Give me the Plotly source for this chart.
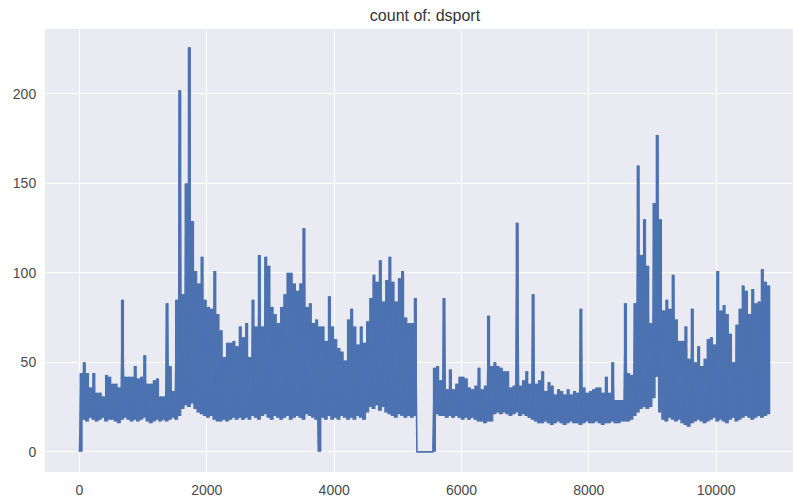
import numpy as np
import plotly.graph_objects as go

# Count of dsport per record index, summarised in 50-record bins:
# each bin contributes its lowest and highest count.
BIN = 50

bin_low = [
    0,
    18, 17, 19, 18, 17, 18, 19, 17, 18, 18, 17, 16, 18, 19, 18, 17, 18, 17, 18, 19,
    17, 16, 17, 18, 17, 18, 17, 18, 19, 18, 20,
    24, 26, 25, 27, 24, 22, 21, 20,
    19, 20, 18, 17, 17, 18, 17, 18, 19, 18, 19, 18,
    19, 18, 20, 19, 18, 20, 21, 19, 18, 20, 19, 18, 19, 20, 18, 19, 20, 19, 18, 21,
    20, 19, 18,
    0,
    19, 18, 20, 18, 19, 18, 20, 19, 18, 19, 18, 20, 19, 18,
    22, 25, 24, 26, 23, 25, 22, 21,
    20, 19, 21, 20, 19, 20, 19, 20,
    0, 0, 0, 0, 0, 0,
    21, 20, 20, 19, 20, 19, 20, 19, 18, 19, 18, 19, 18,
    17, 17, 16, 17, 17,
    21, 22, 21, 22, 21, 20, 21, 22,
    20, 21, 20, 19, 18,
    17, 16, 16, 17, 16, 15, 16, 17, 16, 15, 16, 17, 16, 16, 15, 16, 17, 16, 16, 17,
    16, 15, 16, 16, 17, 16, 16, 17, 17,
    17, 18, 20,
    22, 24, 25, 24, 25,
    30, 42, 22,
    18, 17, 19, 18, 17, 18, 16, 15, 14, 16, 17, 18, 17, 16, 17, 18, 19, 17, 18, 17,
    16, 18, 19, 17, 18, 19, 20, 19, 18, 19, 20, 19, 20, 21,
]

bin_high = [
    44, 50, 44, 36, 44, 33, 33, 31, 43, 42, 38, 38, 36, 85, 42, 42, 42, 48, 41, 42,
    54, 38, 38, 40, 41, 31, 31, 83, 48, 34, 85, 202,
    88, 150, 226, 129, 101, 94, 109, 85, 81, 80, 101, 77, 68, 53, 61, 61, 62, 59,
    70, 64,
    72, 53, 85, 70, 110, 70, 109, 104, 81, 77, 72, 81, 88, 100, 100, 94, 90, 94,
    125, 81, 83, 72, 74, 70, 70, 62, 87, 70, 63, 58, 56, 51, 74, 80, 70, 60, 70, 61,
    73, 86, 99, 95, 107, 84, 96, 109, 95, 84, 97, 101, 75, 72, 72, 86,
    0, 0, 0, 0, 0, 47,
    48, 40, 86, 35, 46, 35, 38, 42, 42, 41, 36, 35, 37, 47, 35, 37, 76, 48, 50, 48,
    47, 45, 45, 36, 37, 128, 37, 40, 45, 38, 88, 38, 40, 45, 34, 39, 37, 32, 35, 34,
    32, 35, 32, 34, 33, 80, 36, 33, 34, 35, 36, 36, 33, 42, 33, 50, 29, 29, 29, 83,
    44, 43, 83, 160, 110, 130, 104, 72, 139, 177, 130, 79, 85, 80, 99, 74, 62, 62,
    70, 52, 80, 50, 59, 48, 52, 63, 64, 60, 101, 79, 82, 77, 66, 50, 71, 80, 93, 90,
    77, 91, 83, 84, 102, 95, 93,
]

x_ticks = [0, 2000, 4000, 6000, 8000, 10000]
y_ticks = [0, 50, 100, 150, 200]

assert len(bin_low) == len(bin_high)

BLUE = "#4C72B0"
n = len(bin_low)
starts = np.arange(n) * BIN

# solid body of each bin, from its low to its high count
edges = np.append(starts, n * BIN)
low_steps = np.append(bin_low, bin_low[-1])
high_steps = np.append(bin_high, bin_high[-1])

# the raw series alternates low / high inside every bin
idx = np.empty(2 * n)
val = np.empty(2 * n)
idx[0::2] = starts
idx[1::2] = starts + BIN // 2
val[0::2] = bin_low
val[1::2] = bin_high

fig = go.Figure()
fig.add_trace(go.Scatter(
    x=edges, y=low_steps, mode="lines", line=dict(width=0, shape="hv", color=BLUE),
    hoverinfo="skip",
))
fig.add_trace(go.Scatter(
    x=edges, y=high_steps, mode="lines", line=dict(width=0, shape="hv", color=BLUE),
    fill="tonexty", fillcolor=BLUE, hoverinfo="skip",
))
fig.add_trace(go.Scatter(
    x=idx, y=val, mode="lines", line=dict(color=BLUE, width=1.6),
    hoverinfo="x+y",
))

tick_font = dict(family="Liberation Sans, Arial, sans-serif", size=14, color="#4a4a4a")
axis_common = dict(
    showgrid=True,
    gridcolor="white",
    gridwidth=1.3,
    zeroline=False,
    showline=False,
    ticks="outside",
    ticklen=5,
    tickcolor="rgba(0,0,0,0)",
    tickfont=tick_font,
)

fig.update_layout(
    width=793,
    height=497,
    margin=dict(l=45, r=0, t=29, b=25),
    plot_bgcolor="#EAEAF2",
    paper_bgcolor="white",
    showlegend=False,
    title=dict(
        text="count of: dsport",
        xref="container",
        yref="container",
        x=425 / 793,
        y=1 - 15 / 497,
        xanchor="center",
        yanchor="middle",
        font=dict(family="Liberation Sans, Arial, sans-serif", size=16, color="#333333"),
    ),
    xaxis=dict(range=[-542, 11207], tickvals=x_ticks,
               ticktext=[str(v) for v in x_ticks], **axis_common),
    yaxis=dict(range=[-11.25, 236.25], tickvals=y_ticks,
               ticktext=[str(v) for v in y_ticks], **axis_common),
)

fig.write_html("out.html")
